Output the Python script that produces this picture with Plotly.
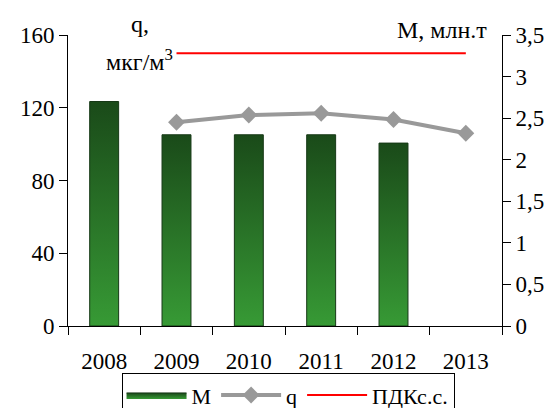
import plotly.graph_objects as go

# data
years = ['2008', '2009', '2010', '2011', '2012', '2013']
M = [2.7, 2.3, 2.3, 2.3, 2.2, None]          # млн.т, right axis
q = [None, 112, 116, 117, 113.5, 106]        # мкг/м3, left axis
pdk = [None, 150, 150, 150, 150, 150]        # ПДКс.с.

FONT = 'Liberation Serif, Times New Roman, serif'
xs = list(range(len(years)))

fig = go.Figure()

# gradient bars drawn as filled polygons on the right axis
half = 0.2
first = True
for i, v in zip(xs, M):
    if v is None:
        continue
    fig.add_trace(go.Scatter(
        x=[i - half, i - half, i + half, i + half, i - half],
        y=[0, v, v, 0, 0],
        yaxis='y2',
        mode='lines',
        fill='toself',
        fillgradient=dict(type='vertical', start=0, stop=v,
                          colorscale=[[0, '#379a35'], [1, '#1a4a19']]),
        line=dict(color='#163816', width=1),
        name='M',
        legendgroup='M',
        showlegend=first,
        hoverinfo='skip',
    ))
    first = False

fig.add_trace(go.Scatter(
    x=xs, y=q, mode='lines+markers', name='q',
    line=dict(color='#999999', width=4),
    marker=dict(symbol='diamond', size=13, color='#999999'),
))

fig.add_trace(go.Scatter(
    x=xs, y=pdk, mode='lines', name='ПДКс.с.',
    line=dict(color='#ff0000', width=2),
))

# the page body has an 8px margin, so the figure is 8px smaller each way
fig.update_layout(
    width=549, height=400,
    margin=dict(l=60, r=55, t=27, b=82, autoexpand=False),
    paper_bgcolor='white', plot_bgcolor='white',
    font=dict(family=FONT, size=23, color='black'),
    separators=', ',
    showlegend=True,
    legend=dict(orientation='h', x=0.507, xanchor='center', y=-0.162, yanchor='top',
                bordercolor='black', borderwidth=1, font=dict(family=FONT, size=22),
                itemwidth=60, tracegroupgap=0),
    xaxis=dict(range=[-0.5, 5.5], tickvals=xs, ticktext=years, ticks='',
               showline=True, linecolor='black', linewidth=1,
               showgrid=False, zeroline=False, ticklabelstandoff=14,
               minor=dict(tick0=-0.5, dtick=1, ticks='outside', ticklen=8,
                          tickcolor='black', showgrid=False)),
    yaxis=dict(range=[0, 160], tickvals=[0, 40, 80, 120, 160], ticks='outside',
               ticklen=8, tickcolor='black', showline=True, linecolor='black',
               showgrid=False, zeroline=False),
    yaxis2=dict(range=[0, 3.5], dtick=0.5, tick0=0, overlaying='y', side='right',
                ticks='outside', ticklen=8, tickcolor='black', showline=True,
                linecolor='black', showgrid=False, zeroline=False),
    annotations=[
        dict(text='q,', x=140, y=24),
        dict(text='мкг/м<sup>3</sup>', x=139, y=60),
        dict(text='M, млн.т', x=442, y=30),
    ],
)

# annotation positions given in screen pixels -> convert to paper coords
x0, x1, y0, y1 = 68, 502, 326, 35
for a in fig.layout.annotations:
    a.xref = 'paper'
    a.yref = 'paper'
    a.xanchor = 'center'
    a.yanchor = 'middle'
    a.showarrow = False
    a.x = (a.x - x0) / (x1 - x0)
    a.y = (y0 - a.y) / (y0 - y1)
    a.font = dict(family=FONT, size=24)

fig.write_html('out.html')
